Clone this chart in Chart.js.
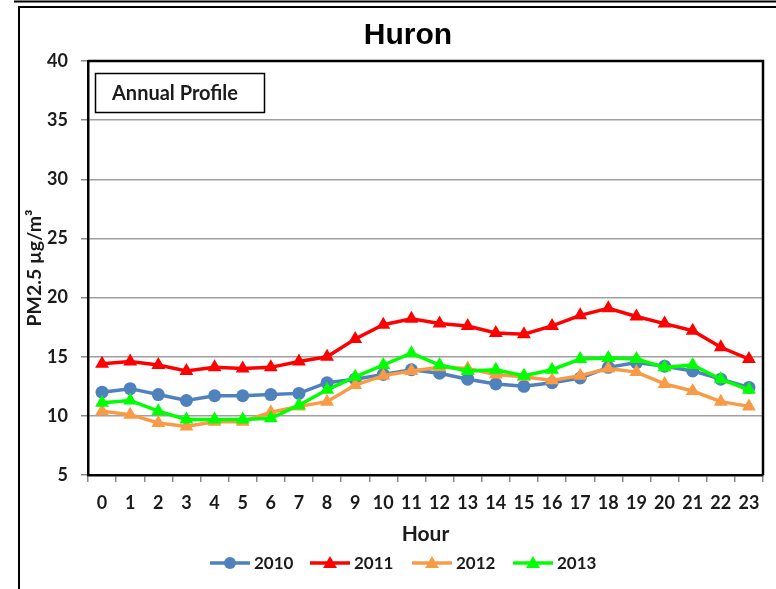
<!DOCTYPE html>
<html>
<head>
<meta charset="utf-8">
<title>Huron</title>
<script src="https://cdn.jsdelivr.net/npm/chart.js@4/dist/chart.umd.min.js"></script>
<style>
  body { margin: 0; background: #fff; }
  #chart { display: block; }
</style>
</head>
<body>
<canvas id="chart" width="776" height="589"></canvas>
<script>
// Hourly PM2.5 averages, one list per year
const hours = ['0', '1', '2', '3', '4', '5', '6', '7', '8', '9', '10', '11',
               '12', '13', '14', '15', '16', '17', '18', '19', '20', '21', '22', '23']
const years = ['2010', '2011', '2012', '2013']
const pm2010 = [12.0, 12.3, 11.8, 11.3, 11.7, 11.7, 11.8, 11.9, 12.8, 13.1, 13.5, 13.9,
                13.6, 13.1, 12.7, 12.5, 12.8, 13.2, 14.1, 14.5, 14.2, 13.8, 13.1, 12.4]
const pm2011 = [14.4, 14.6, 14.3, 13.8, 14.1, 14.0, 14.1, 14.6, 15.0, 16.5, 17.7, 18.2,
                17.8, 17.6, 17.0, 16.9, 17.6, 18.5, 19.1, 18.4, 17.8, 17.2, 15.8, 14.8]
const pm2012 = [10.4, 10.1, 9.4, 9.1, 9.5, 9.5, 10.3, 10.8, 11.2, 12.6, 13.4, 13.8,
                14.1, 14.0, 13.5, 13.3, 13.0, 13.4, 14.0, 13.7, 12.7, 12.1, 11.2, 10.8]
const pm2013 = [11.1, 11.3, 10.4, 9.7, 9.7, 9.7, 9.8, 10.9, 12.2, 13.3, 14.3, 15.3,
                14.3, 13.8, 13.9, 13.4, 13.9, 14.8, 14.9, 14.8, 14.1, 14.3, 13.1, 12.2]

const labelFont = 'Lato'
const textColor = '#1b1b1b'

function series(label, data, color, shape, order) {
    return {
        label: label,
        data: data,
        borderColor: color,
        backgroundColor: color,
        borderWidth: 3.5,
        pointStyle: shape,
        pointRadius: shape === 'circle' ? 6.5 : 8,
        pointHoverRadius: shape === 'circle' ? 6.5 : 8,
        pointBorderWidth: 0,
        tension: 0,
        order: order // later years are painted on top
    }
}

// small marker for the legend row
function legendMarker(ctx, shape, x, y) {
    ctx.beginPath()
    if (shape === 'circle') {
        ctx.arc(x, y, 6, 0, Math.PI * 2)
    } else {
        const r = 8
        ctx.moveTo(x, y - r)
        ctx.lineTo(x + r * 0.866, y + r / 2)
        ctx.lineTo(x - r * 0.866, y + r / 2)
        ctx.closePath()
    }
    ctx.fill()
}

// Outer frame, title, the "Annual Profile" box and the legend row
const decorations = {
    id: 'decorations',
    afterDraw(chart) {
        const ctx = chart.ctx
        const area = chart.chartArea
        ctx.save()

        // page frame
        ctx.strokeStyle = '#000'
        ctx.lineWidth = 2
        ctx.beginPath()
        ctx.moveTo(14, 1.5); ctx.lineTo(776, 1.5)
        ctx.moveTo(19, 600); ctx.lineTo(19, 7); ctx.lineTo(776, 7)
        ctx.stroke()

        // top and right edges of the plot box
        ctx.lineWidth = 2.5
        ctx.beginPath()
        ctx.moveTo(area.left, area.top); ctx.lineTo(area.right, area.top); ctx.lineTo(area.right, area.bottom)
        ctx.stroke()

        // title
        ctx.fillStyle = '#000'
        ctx.font = 'bold 30px "Liberation Sans", Arial, sans-serif'
        ctx.textAlign = 'center'
        ctx.textBaseline = 'middle'
        ctx.fillText('Huron', 408, 36)

        // annotation box
        ctx.lineWidth = 1.5
        ctx.strokeRect(95.5, 73.5, 169, 39)
        ctx.fillStyle = textColor
        ctx.font = 'bold 20px ' + labelFont
        ctx.textAlign = 'left'
        ctx.fillText('Annual Profile', 112, 94)

        // legend: short line with the marker, then the year
        const legendX = [210, 310, 412, 513]
        const legendY = 563
        chart.data.datasets.forEach((ds, i) => {
            const x0 = legendX[i]
            ctx.strokeStyle = ds.borderColor
            ctx.lineWidth = 3.5
            ctx.beginPath()
            ctx.moveTo(x0, legendY); ctx.lineTo(x0 + 40, legendY)
            ctx.stroke()
            ctx.fillStyle = ds.backgroundColor
            legendMarker(ctx, ds.pointStyle, x0 + 20, legendY + (ds.pointStyle === 'circle' ? 0 : 1))
            ctx.fillStyle = textColor
            ctx.font = 'bold 17px ' + labelFont
            ctx.textAlign = 'left'
            ctx.textBaseline = 'middle'
            ctx.fillText(ds.label, x0 + 44, legendY + 1)
        })
        ctx.restore()
    }
}

const chart = new Chart(document.getElementById('chart'), {
    type: 'line',
    data: {
        labels: hours,
        datasets: [
            series(years[0], pm2010, '#4f81bd', 'circle', 3),
            series(years[1], pm2011, '#ff0000', 'triangle', 2),
            series(years[2], pm2012, '#f99b45', 'triangle', 1),
            series(years[3], pm2013, '#00ff00', 'triangle', 0)
        ]
    },
    options: {
        responsive: false,
        animation: false,
        layout: {
            padding: { left: 18, top: 61, right: 13, bottom: 39 }
        },
        scales: {
            x: {
                offset: true,
                afterFit: scale => { scale.height = 75 },
                grid: {
                    display: true,
                    drawOnChartArea: false,
                    offset: true,
                    tickLength: 7,
                    color: '#8a8a8a',
                    lineWidth: 1.5
                },
                border: { display: true, color: '#000', width: 2.5 },
                ticks: {
                    padding: 10,
                    maxRotation: 0,
                    color: textColor,
                    font: { family: labelFont, size: 18, weight: 'bold' }
                },
                title: {
                    display: true,
                    text: 'Hour',
                    color: textColor,
                    padding: { top: 0, bottom: 3 },
                    font: { family: labelFont, size: 21, weight: 'bold' }
                }
            },
            y: {
                min: 5,
                max: 40,
                afterFit: scale => { scale.width = 70 },
                grid: {
                    color: '#a0a0a0',
                    lineWidth: 1.5,
                    tickLength: 7,
                    tickColor: '#8a8a8a'
                },
                border: { display: true, color: '#000', width: 2.5 },
                ticks: {
                    stepSize: 5,
                    padding: 13,
                    color: textColor,
                    font: { family: labelFont, size: 18, weight: 'bold' }
                },
                title: {
                    display: true,
                    text: 'PM2.5 µg/m³',
                    color: textColor,
                    padding: { top: 5, bottom: 0 },
                    font: { family: labelFont, size: 19.5, weight: 'bold' }
                }
            }
        },
        plugins: {
            legend: { display: false },
            title: { display: false },
            tooltip: { enabled: false }
        }
    },
    plugins: [decorations]
})
</script>
</body>
</html>
